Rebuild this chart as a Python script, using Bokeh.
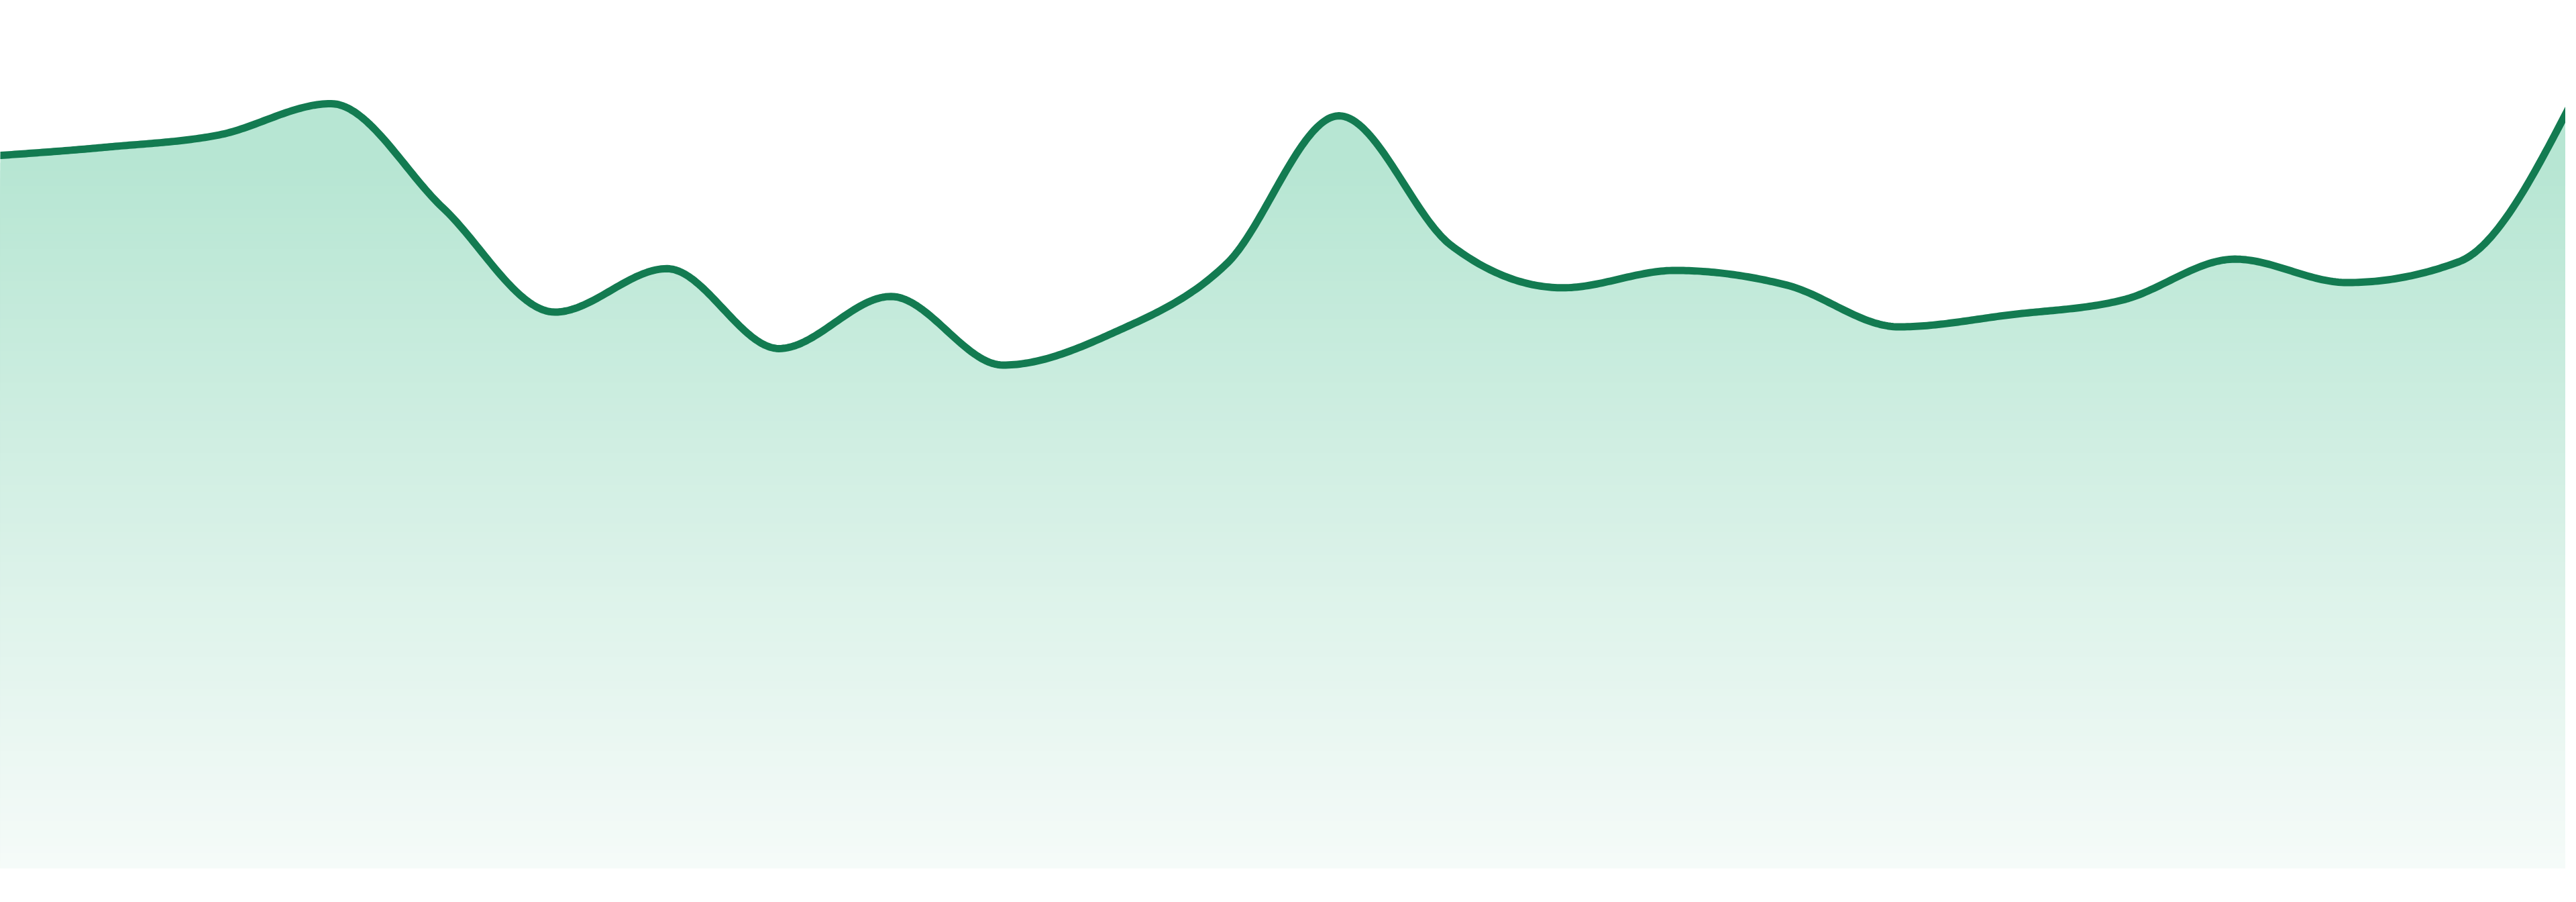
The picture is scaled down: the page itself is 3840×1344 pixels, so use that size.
import numpy as np
from bokeh.plotting import figure
from bokeh.models import Range1d, ColumnDataSource
from bokeh.embed import file_html
from bokeh.resources import INLINE

# ---- data ----
idx = list(range(24))
values = [82.1, 83.1, 84.5, 88.1, 76.1, 64.1, 69.1, 59.9, 65.9, 58.0, 61.8, 69.7,
          86.7, 71.8, 66.9, 68.9, 67.2, 62.4, 63.8, 65.5, 70.2, 67.5, 69.9, 88.1]

LINE_COLOR = "#137B51"
TOP_RGB = (183, 230, 211)
BOTTOM_RGB = (246, 251, 249)
GRAD_TOP = 81.3   # value where the gradient reaches its full colour


def monotone_curve(x, y, per_seg=40):
    """Render helper: monotone cubic (d3 curveMonotoneX style) through the knots."""
    x = np.asarray(x, float)
    y = np.asarray(y, float)
    n = len(x)
    h = np.diff(x)
    s = np.diff(y) / h
    t = np.zeros(n)
    for i in range(1, n - 1):
        h0, h1 = h[i - 1], h[i]
        s0, s1 = s[i - 1], s[i]
        p = (s0 * h1 + s1 * h0) / (h0 + h1)
        t[i] = (np.sign(s0) + np.sign(s1)) * min(abs(s0), abs(s1), 0.5 * abs(p))
    t[0] = (3 * s[0] - t[1]) / 2
    t[-1] = (3 * s[-1] - t[-2]) / 2
    xs, ys = [], []
    u = np.linspace(0, 1, per_seg, endpoint=False)
    for i in range(n - 1):
        x0, x3 = x[i], x[i + 1]
        y0, y3 = y[i], y[i + 1]
        d = h[i] / 3
        x1, y1 = x0 + d, y0 + d * t[i]
        x2, y2 = x3 - d, y3 - d * t[i + 1]
        b0 = (1 - u) ** 3
        b1 = 3 * u * (1 - u) ** 2
        b2 = 3 * u ** 2 * (1 - u)
        b3 = u ** 3
        xs.extend(b0 * x0 + b1 * x1 + b2 * x2 + b3 * x3)
        ys.extend(b0 * y0 + b1 * y1 + b2 * y2 + b3 * y3)
    xs.append(x[-1])
    ys.append(y[-1])
    return np.array(xs), np.array(ys)


cx, cy = monotone_curve(idx, values)

W, H = 3824, 1294
step = 3840 / 23.0
pad = 8 / step

p = figure(width=W, height=H, output_backend="svg", toolbar_location=None,
           x_range=Range1d(pad, 23 - pad), y_range=Range1d(0, 100),
           min_border=0, background_fill_color="white", border_fill_color="white")
p.axis.visible = False
p.grid.visible = False
p.outline_line_color = None

# vertical gradient fill made of stacked areas (painter's order, top colour first)
n_bands = 90
levels = np.linspace(GRAD_TOP, 0, n_bands + 1)[:-1]
src = ColumnDataSource(dict(x=cx, y0=np.zeros_like(cx), y=cy))
p.varea(x="x", y1="y0", y2="y", source=src,
        fill_color="#%02x%02x%02x" % TOP_RGB, fill_alpha=1.0)
for lv in levels:
    f = lv / GRAD_TOP
    rgb = tuple(int(round(BOTTOM_RGB[k] + (TOP_RGB[k] - BOTTOM_RGB[k]) * f)) for k in range(3))
    p.varea(x=cx, y1=np.zeros_like(cx), y2=np.minimum(cy, lv),
            fill_color="#%02x%02x%02x" % rgb, fill_alpha=1.0)

p.line(x="x", y="y", source=src, line_color=LINE_COLOR, line_width=11,
       line_join="round", line_cap="round")

open("out.html", "w").write(file_html(p, INLINE))
